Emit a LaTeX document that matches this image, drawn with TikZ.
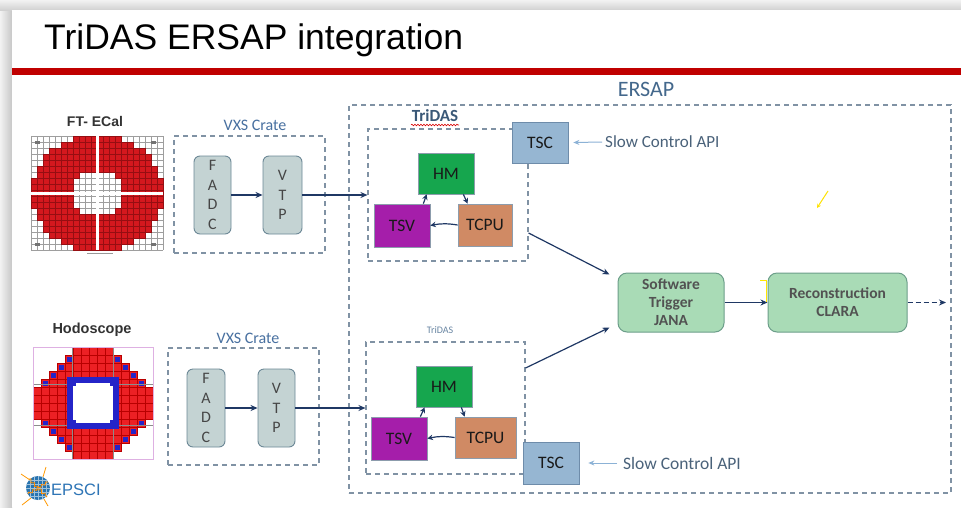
\documentclass[tikz,border=0pt]{standalone}
\usepackage{fontspec}
\setmainfont{Carlito}
\newfontfamily\arialf{Liberation Sans}
\usetikzlibrary{arrows.meta,calc,decorations.pathmorphing}

\definecolor{titlered}{RGB}{192,0,0}
\definecolor{dashgray}{RGB}{128,146,164}
\definecolor{navy}{RGB}{31,56,100}
\definecolor{apiblue}{RGB}{140,178,214}
\definecolor{labelblue}{RGB}{68,104,140}
\definecolor{crateblue}{RGB}{72,112,160}
\definecolor{apitext}{RGB}{74,98,122}
\definecolor{cratefill}{RGB}{196,211,211}
\definecolor{crateline}{RGB}{108,136,150}
\definecolor{textgray}{RGB}{82,82,82}
\definecolor{lettergray}{RGB}{70,70,70}
\definecolor{blkline}{RGB}{140,156,172}
\definecolor{hmgreen}{RGB}{22,166,78}
\definecolor{tsvpurple}{RGB}{165,30,170}
\definecolor{tcpubrown}{RGB}{208,138,100}
\definecolor{tscblue}{RGB}{150,182,210}
\definecolor{tscline}{RGB}{110,140,170}
\definecolor{flowfill}{RGB}{169,219,182}
\definecolor{flowline}{RGB}{108,158,138}
\definecolor{ecred}{RGB}{212,24,30}
\definecolor{ecgrid}{RGB}{150,14,18}
\definecolor{hodored}{RGB}{236,32,36}
\definecolor{hodoblue}{RGB}{36,36,200}
\definecolor{hodopink}{RGB}{222,176,226}
\definecolor{globeblue}{RGB}{40,116,176}
\definecolor{epsciblue}{RGB}{46,117,182}

\begin{document}
\begin{tikzpicture}[x=1pt,y=-1pt,
  dashbox/.style={draw=dashgray, dash pattern=on 5pt off 4pt, line width=1.1pt, inner sep=0pt},
  crate/.style={draw=crateline, fill=cratefill, rounded corners=6pt, line width=0.9pt, inner sep=0pt,
    align=center, text=lettergray, font=\fontsize{16}{19.5}\selectfont},
  blk/.style={draw=blkline, line width=0.7pt, inner sep=0pt, text=black!90, font=\fontsize{17.5}{20}\selectfont},
  tscbox/.style={blk, draw=tscline, fill=tscblue, minimum width=56pt, minimum height=41pt},
  flow/.style={draw=flowline, fill=flowfill, rounded corners=9pt, line width=1pt, inner sep=0pt, align=center,
    text=textgray, font=\bfseries\fontsize{15.5}{18}\selectfont},
  link/.style={draw=navy, line width=1.2pt, -{Stealth[length=7pt,width=6pt]}},
  slink/.style={draw=navy, line width=1.2pt, -{Stealth[length=5.5pt,width=5.5pt]}},
  api/.style={draw=apiblue, line width=1pt, -{Stealth[length=6pt,width=5pt]}},
  apilabel/.style={anchor=west, inner sep=0pt, text=apitext, font=\fontsize{17}{20}\selectfont},
  cratelabel/.style={inner sep=0pt, text=crateblue, font=\fontsize{16}{18}\selectfont},
  detlabel/.style={inner sep=0pt, text=black!80, font=\arialf\bfseries\fontsize{14}{16}\selectfont},
]
\useasboundingbox (0,0) rectangle (961,507);

% slide with its drop shadow
\fill[black!10] (0,0) rectangle (961,507);
\shade[left color=black!5, right color=black!22] (0,0) rectangle (12,507);
\shade[top color=black!5, bottom color=black!18] (0,0) rectangle (961,10);
\fill[white] (12,10) rectangle (961,507);

% title and rule
\node[anchor=base west, inner sep=0pt, font=\arialf\fontsize{35.5}{40}\selectfont] (title) at (44,49.5) {TriDAS ERSAP integration};
\fill[titlered] (12,67.5) rectangle (961,74.5);

% ---------------- FT-ECal calorimeter map ----------------
\node[detlabel] (ecallabel) at (95,121) {FT- ECal};
\fill[white] (31,136) rectangle (163,250);
\foreach \k in {0,...,22} \draw[black!38, line width=0.35pt] (31+6*\k,136) -- (31+6*\k,250);
\foreach \k in {0,...,19} \draw[black!38, line width=0.35pt] (31,136+6*\k) -- (163,136+6*\k);
\foreach \i in {0,...,21}{
  \foreach \j in {0,...,18}{
    \pgfmathtruncatemacro\outer{1000*(((6*\i-63)/65)*((6*\i-63)/65)+((6*\j-54)/59)*((6*\j-54)/59))}
    \pgfmathtruncatemacro\inner{1000*(((6*\i-63)/25)*((6*\i-63)/25)+((6*\j-54)/23)*((6*\j-54)/23))}
    \ifnum\outer<1000 \ifnum\inner>1000
      \fill[ecred, draw=ecgrid, line width=0.3pt] (31+6*\i,136+6*\j) rectangle ++(6,6);
    \fi\fi
  }}
\fill[white] (95.5,136) rectangle (98.5,250);
\fill[white] (31,191.5) rectangle (163,194.5);
\foreach \cx/\cy in {35/141,151/141,35/243,151/243}
  \fill[black!55] (\cx,\cy) rectangle ++(5,3);
\draw[black!40, line width=0.8pt] (87,253) -- (113,253);

% ---------------- Hodoscope map ----------------
\node[detlabel, font=\arialf\bfseries\fontsize{14.5}{16}\selectfont] (hodolabel) at (92,330) {Hodoscope};
\fill[white] (33,347) rectangle (153,459);
\foreach \i in {0,...,14}{
  \foreach \j in {0,...,13}{
    \pgfmathtruncatemacro\adx{abs(8*\i-56)}
    \pgfmathtruncatemacro\ady{abs(8*\j-52)}
    \pgfmathtruncatemacro\dsum{\adx+\ady}
    \ifnum\dsum<73
      \fill[hodored, draw=red!72!black, line width=0.25pt] (33+8*\i,347+8*\j) rectangle ++(8,8);
      \ifnum\dsum>64 \ifnum\adx>23 \ifnum\ady>19
        \fill[hodoblue] (34.5+8*\i,348.5+8*\j) rectangle ++(5,5);
      \fi\fi\fi
    \fi
  }}
\draw[black!45, line width=0.5pt] (33,384) -- (153,384) (33,425) -- (153,425)
  (72,347) -- (72,459) (113,347) -- (113,459);
\draw[hodoblue, line width=6pt] (70,380) rectangle (116,426);
\fill[white] (73,383) rectangle (113,423);
\foreach \cx/\cy in {73/383,110/383,73/420,110/420}
  \fill[hodoblue] (\cx,\cy) rectangle ++(3,3);
\draw[hodopink, line width=0.9pt] (33,347) rectangle (153,459);

% ---------------- EPSCI logo ----------------
\begin{scope}
  \fill[globeblue] (38,488) circle (12);
  \clip (38,488) circle (12);
  \foreach \k in {-8,-4,...,8} \draw[white!55!globeblue, line width=0.4pt] (26,488+\k) -- (50,488+\k);
  \foreach \k in {-8,-4,...,8} \draw[white!55!globeblue, line width=0.4pt] (38+\k,476) -- (38+\k,500);
\end{scope}
\draw[orange!90!yellow, line width=0.8pt, decorate, decoration={snake, amplitude=1.4pt, segment length=5pt}]
  (29,479) -- (47,497);
\draw[orange!90!yellow, line width=0.8pt, decorate, decoration={snake, amplitude=1.2pt, segment length=5pt}]
  (28,494) -- (48,482);
\draw[orange!80!yellow, line width=0.8pt] (43,477) -- (46,467) (30,480) -- (21,474)
  (31,498) -- (22,505) (44,499) -- (48,506);
\node[anchor=base west, inner sep=0pt, text=epsciblue, font=\arialf\fontsize{16.5}{18}\selectfont] (epsci) at (51,495) {EPSCI};

% ---------------- ERSAP frame ----------------
\node[dashbox, minimum width=602pt, minimum height=388pt] (ersap) at (650,299) {};
\node[inner sep=0pt, text=labelblue, font=\fontsize{22}{24}\selectfont] (ersaplabel) at (646,89) {ERSAP};

% ---------------- upper readout chain ----------------
\node[dashbox, minimum width=151pt, minimum height=117pt] (vxs1) at (249.5,194.5) {};
\node[cratelabel] (vxs1label) at (255,125) {VXS Crate};
\node[crate, minimum width=37pt, minimum height=78pt] (fadc1) at (212.5,195) {F\\A\\D\\C};
\node[crate, minimum width=39pt, minimum height=78pt] (vtp1) at (282.5,195) {V\\T\\P};

\node[dashbox, minimum width=160pt, minimum height=132pt] (tridas1) at (448,195) {};
\node[inner sep=0pt, text=labelblue!85!black, font=\bfseries\fontsize{17}{19}\selectfont] (tridas1label) at (435,116) {TriDAS};
\draw[red!85!black, line width=0.6pt, decorate, decoration={snake, amplitude=0.8pt, segment length=3pt}]
  (411,125) -- (459,125);
\node[blk, fill=hmgreen, minimum width=56pt, minimum height=41pt] (hm1) at (446,173.5) {HM};
\node[blk, fill=tsvpurple, minimum width=56pt, minimum height=43pt] (tsv1) at (402,225.5) {TSV};
\node[blk, fill=tcpubrown, minimum width=54pt, minimum height=42pt] (tcpu1) at (485,225) {TCPU};
\node[tscbox] (tsc1) at (540,142.5) {TSC};
\node[apilabel] (api1) at (605,142) {Slow Control API};

\draw[link] (fadc1.east) -- (vtp1.west);
\draw[link] (vtp1.east) -- (vtp1.east -| tridas1.west);
\draw[slink] ($(tsv1.north east)+(-7,0)$) -- ($(hm1.south west)+(9,0)$);
\draw[slink] ($(hm1.south east)+(-11,0)$) -- ($(tcpu1.north west)+(10,0)$);
\draw[slink] (tcpu1.west) to[bend right=10] (tsv1.east);
\draw[api] ($(api1.west)+(-3,0)$) -- ($(tsc1.east)+(5,0)$);

% ---------------- lower readout chain ----------------
\node[dashbox, minimum width=151pt, minimum height=117pt] (vxs2) at (243.5,406.5) {};
\node[cratelabel] (vxs2label) at (248,338) {VXS Crate};
\node[crate, minimum width=38pt, minimum height=78pt] (fadc2) at (206,408) {F\\A\\D\\C};
\node[crate, minimum width=37pt, minimum height=78pt] (vtp2) at (276.5,408) {V\\T\\P};

\node[dashbox, minimum width=159pt, minimum height=132pt] (tridas2) at (445.5,408) {};
\node[inner sep=0pt, text=labelblue!80, font=\fontsize{10}{12}\selectfont] (tridas2label) at (440,330) {TriDAS};
\node[blk, fill=hmgreen, minimum width=56pt, minimum height=41pt] (hm2) at (444,386.5) {HM};
\node[blk, fill=tsvpurple, minimum width=56pt, minimum height=43pt] (tsv2) at (399,438.5) {TSV};
\node[blk, fill=tcpubrown, minimum width=61pt, minimum height=41pt] (tcpu2) at (485.5,437.5) {TCPU};
\node[tscbox, minimum height=42pt] (tsc2) at (551,463) {TSC};
\node[apilabel, font=\fontsize{17.5}{20}\selectfont] (api2) at (623,463) {Slow Control API};

\draw[link] (fadc2.east) -- (vtp2.west);
\draw[link] (vtp2.east) -- (vtp2.east -| tridas2.west);
\draw[slink] ($(tsv2.north east)+(-7,0)$) -- ($(hm2.south west)+(9,0)$);
\draw[slink] ($(hm2.south east)+(-11,0)$) -- ($(tcpu2.north west)+(10,0)$);
\draw[slink] (tcpu2.west) to[bend right=10] (tsv2.east);
\draw[api] ($(api2.west)+(-6,0)$) -- ($(tsc2.east)+(9,0)$);

% ---------------- trigger and reconstruction ----------------
\node[flow, minimum width=106pt, minimum height=59pt] (trigger) at (671,302.5) {Software\\Trigger\\JANA};
\node[flow, minimum width=139pt, minimum height=59pt] (reco) at (837.5,302.5) {Reconstruction\\CLARA};
\coordinate (downstream) at (946,302.5);

\draw[link] ($(tridas1.east)+(0,38)$) -- ($(trigger.north west)+(-8,2)$);
\draw[link] ($(tridas2.east)+(0,-40)$) -- ($(trigger.south west)+(-8,-5)$);
\draw[link] (trigger.east) -- (reco.west);
\draw[link, dash pattern=on 5pt off 3pt] (reco.east) -- (downstream);

% highlighter marks
\draw[yellow!90!orange, line width=0.9pt] (760,280) -- (766,280) -- (766,302);
\draw[yellow!85!orange, line width=1pt, -{Stealth[length=4pt,width=4pt]}] (828,191) -- (817,208);
\end{tikzpicture}
\end{document}
